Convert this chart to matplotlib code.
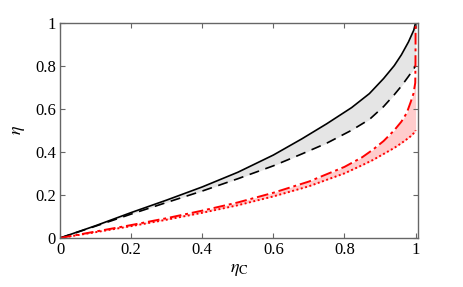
import matplotlib

matplotlib.use('Agg')
import matplotlib.pyplot as plt

# values
eta_c = [0.0, 0.1, 0.2, 0.3, 0.4, 0.5, 0.6, 0.68, 0.75, 0.82, 0.87, 0.91, 0.94,
         0.96, 0.98, 0.995, 1.0]
eta_upper = [0.0, 0.057, 0.118, 0.176, 0.237, 0.305, 0.385, 0.46, 0.53, 0.605, 0.67,
             0.74, 0.80, 0.85, 0.91, 0.965, 1.0]
eta_lower = [0.0, 0.055, 0.111, 0.165, 0.218, 0.275, 0.335, 0.39, 0.44, 0.50, 0.55,
             0.61, 0.665, 0.705, 0.75, 0.785, 0.80]

eta_c_red = [0.0, 0.1, 0.2, 0.3, 0.4, 0.5, 0.6, 0.7, 0.8, 0.85, 0.88, 0.91, 0.94,
             0.96, 0.975, 0.986, 0.994, 0.999, 0.9997, 1.0]
eta_red_upper = [0.0, 0.03, 0.06, 0.092, 0.127, 0.165, 0.21, 0.262, 0.33, 0.375,
                 0.41, 0.45, 0.50, 0.54, 0.58, 0.63, 0.67, 0.72, 0.82, 1.0]
eta_red_lower = [0.0, 0.027, 0.055, 0.085, 0.117, 0.152, 0.193, 0.24, 0.30, 0.338,
                 0.362, 0.39, 0.418, 0.44, 0.458, 0.472, 0.485, 0.493, 0.497, 0.50]

plt.rcParams['font.family'] = ['Liberation Serif', 'DejaVu Serif']
plt.rcParams['mathtext.fontset'] = 'stix'

fig = plt.figure(figsize=(4.63, 2.87), dpi=100)
ax = fig.add_axes([0.1296, 0.1707, 0.7734, 0.7509])

ax.fill_between(eta_c, eta_lower, eta_upper, color='#e5e5e5', linewidth=0)
ax.fill_between(eta_c_red, eta_red_lower, eta_red_upper, color='#ffcccc', linewidth=0)

ax.plot(eta_c, eta_upper, color='black', linewidth=1.2)
ax.plot(eta_c, eta_lower, color='black', linewidth=1.2, dashes=(6, 4))
ax.plot(eta_c_red, eta_red_upper, color='red', linewidth=1.4, dashes=(6, 2, 1.5, 2))
ax.plot(eta_c_red, eta_red_lower, color='red', linewidth=1.4, dashes=(1, 1.3))

ax.set_xlim(0, 1.007)
ax.set_ylim(0, 1)
ax.set_xticks([0, 0.2, 0.4, 0.6, 0.8, 1])
ax.set_xticklabels(['0', '0.2', '0.4', '0.6', '0.8', '1'])
ax.set_yticks([0, 0.2, 0.4, 0.6, 0.8, 1])
ax.set_yticklabels(['0', '0.2', '0.4', '0.6', '0.8', '1'])
ax.tick_params(direction='in', top=True, right=True, length=3.5, width=0.8,
               color='#666666', labelsize=12, pad=3)
for spine in ax.spines.values():
    spine.set_color('#666666')
    spine.set_linewidth(1.0)

ax.set_xlabel(r'$\eta_{\rm C}$', fontsize=13, labelpad=2)
ax.set_ylabel(r'$\eta$', fontsize=13, labelpad=6)

fig.savefig('out.png', dpi=100)
